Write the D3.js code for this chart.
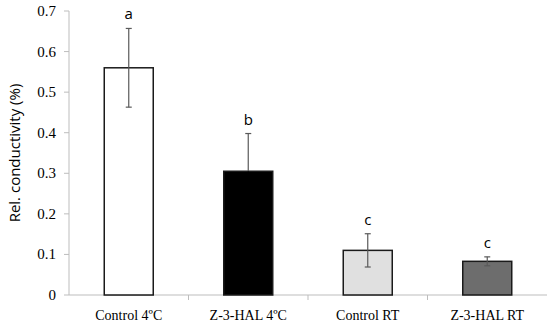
<!DOCTYPE html>
<html><head><meta charset="utf-8">
<script src="https://cdn.jsdelivr.net/npm/d3@7"></script>
<style>body{margin:0;background:#fff}</style>
</head><body>
<svg id="c" width="550" height="327"></svg>
<script>
const categories = ["Control 4ºC", "Z-3-HAL 4ºC", "Control RT", "Z-3-HAL RT"];
const values = [0.56, 0.305, 0.11, 0.083];
const errors = [0.097, 0.093, 0.041, 0.011];
const letters = ["a", "b", "c", "c"];
const fills = ["#ffffff", "#000000", "#e0e0e0", "#6d6d6d"];
const yTicks = [0, 0.1, 0.2, 0.3, 0.4, 0.5, 0.6, 0.7];

const svg = d3.select("#c");
const x = d3.scaleBand().domain(categories).range([69, 547]).paddingInner(0.59).paddingOuter(0.295);
const xc = d3.scaleBand().domain(categories).range([69, 547]);
const y = d3.scaleLinear().domain([0, 0.7]).range([295, 11]);
const cx = d => xc(d) + xc.bandwidth() / 2;

// y axis
svg.append("line").attr("x1", 69).attr("x2", 69).attr("y1", y(0.7)).attr("y2", y(0)).attr("stroke", "#bdbdbd");
svg.selectAll(".yt").data(yTicks).join("line").attr("x1", 64).attr("x2", 69)
  .attr("y1", d => y(d)).attr("y2", d => y(d)).attr("stroke", "#bdbdbd");
svg.selectAll(".yl").data(yTicks).join("text").attr("x", 56).attr("y", d => y(d) + 5)
  .attr("text-anchor", "end").attr("font-family", "Liberation Serif").attr("font-size", 15)
  .text(d => d === 0 ? "0" : d3.format(".1f")(d));

// x axis
svg.append("line").attr("x1", 69).attr("x2", 547).attr("y1", y(0)).attr("y2", y(0)).attr("stroke", "#bdbdbd");
svg.selectAll(".xt").data(categories.slice(1)).join("line")
  .attr("x1", d => xc(d)).attr("x2", d => xc(d)).attr("y1", y(0)).attr("y2", y(0) + 5).attr("stroke", "#bdbdbd");
svg.selectAll(".xl").data(categories).join("text")
  .attr("x", d => cx(d)).attr("y", 320)
  .attr("text-anchor", "middle").attr("font-family", "Liberation Serif").attr("font-size", 14)
  .text(d => d);

// bars
svg.selectAll(".bar").data(categories).join("rect")
  .attr("x", d => x(d)).attr("width", x.bandwidth())
  .attr("y", (d, i) => y(values[i])).attr("height", (d, i) => y(0) - y(values[i]))
  .attr("fill", (d, i) => fills[i]).attr("stroke", "#1a1a1a").attr("stroke-width", 1.5);

// error bars
const errColor = (i, s) => (s < 0 && fills[i] === "#000000") ? "#000000" : "#5a5a5a";
const eb = svg.selectAll(".eb").data(categories).join("g");
[1, -1].forEach(s => {
  eb.append("line").attr("x1", d => cx(d)).attr("x2", d => cx(d))
    .attr("y1", (d, i) => y(values[i])).attr("y2", (d, i) => y(values[i] + s * errors[i]))
    .attr("stroke", (d, i) => errColor(i, s)).attr("stroke-width", 1.2);
  eb.append("line").attr("x1", d => cx(d) - 3).attr("x2", d => cx(d) + 3)
    .attr("y1", (d, i) => y(values[i] + s * errors[i])).attr("y2", (d, i) => y(values[i] + s * errors[i]))
    .attr("stroke", (d, i) => errColor(i, s)).attr("stroke-width", 1.2);
});

// letters
svg.selectAll(".lt").data(categories).join("text")
  .attr("x", d => cx(d)).attr("y", (d, i) => y(values[i] + errors[i]) - 9)
  .attr("text-anchor", "middle").attr("font-family", "Open Sans").attr("font-size", 15)
  .text((d, i) => letters[i]);

// y label
svg.append("text").attr("transform", "translate(20,153) rotate(-90)")
  .attr("text-anchor", "middle").attr("font-family", "Open Sans").attr("font-size", 15)
  .text("Rel. conductivity (%)");
</script>
</body></html>
